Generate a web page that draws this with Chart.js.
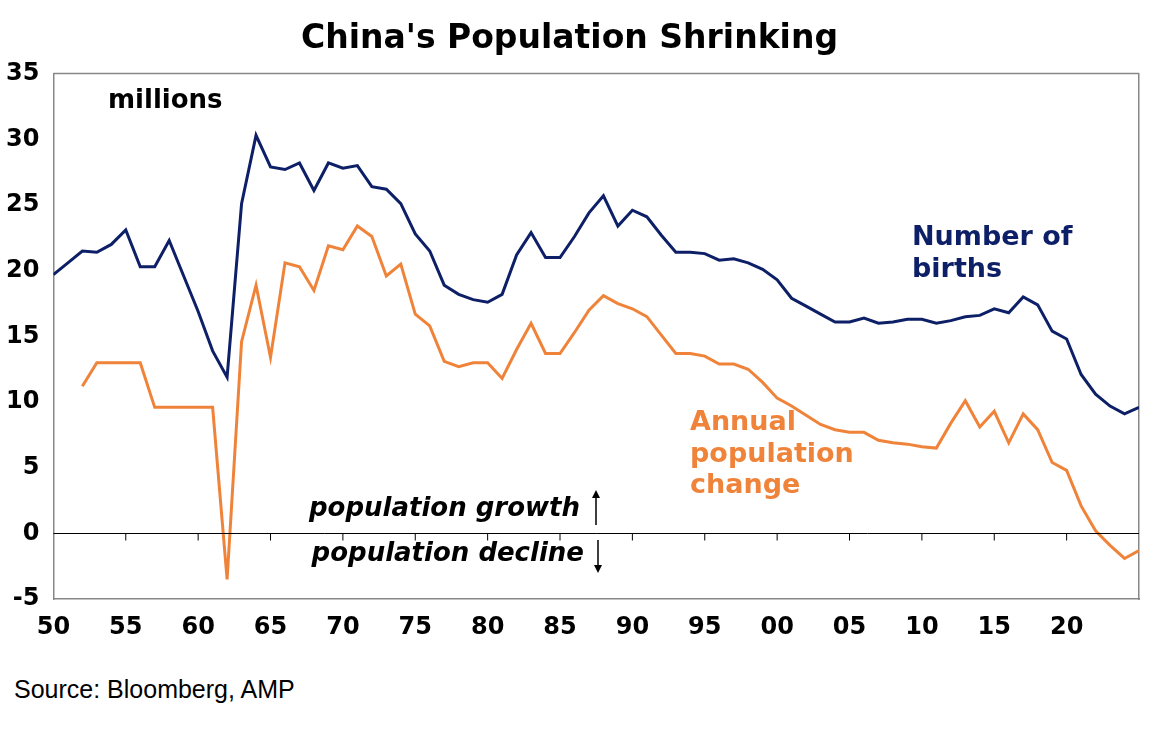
<!DOCTYPE html>
<html>
<head>
<meta charset="utf-8">
<script src="https://cdn.jsdelivr.net/npm/chart.js@4/dist/chart.umd.min.js"></script>
<style>
  body { margin: 0; background: #fff; }
  #wrap { position: relative; width: 1166px; height: 731px; }
  #source { position: absolute; left: 14px; top: 675px; font: 25px "Liberation Sans", Arial, sans-serif; color: #000; }
</style>
</head>
<body>
<div id="wrap">
  <canvas id="chart" width="1166" height="660"></canvas>
  <div id="source">Source: Bloomberg, AMP</div>
</div>
<script>
let years = [];
for (let y = 1950; y <= 2025; y++) years.push(y);

let births = [19.7,20.6,21.5,21.4,22.0,23.1,20.3,20.3,22.3,19.6,
              16.9,13.9,11.9,25.1,30.3,27.9,27.7,28.2,26.1,28.2,
              27.8,28.0,26.4,26.2,25.1,22.8,21.5,18.9,18.2,17.8,
              17.6,18.2,21.2,22.9,21.0,21.0,22.6,24.4,25.7,23.4,
              24.6,24.1,22.7,21.4,21.4,21.3,20.8,20.9,20.6,20.1,
              19.3,17.9,17.3,16.7,16.1,16.1,16.4,16.0,16.1,16.3,
              16.3,16.0,16.2,16.5,16.6,17.1,16.8,18.0,17.4,15.4,
              14.8,12.1,10.6,9.7,9.1,9.6];

let popChange = [null,null,11.2,13.0,13.0,13.0,13.0,9.6,9.6,9.6,
              9.6,9.6,-3.5,14.6,18.9,13.4,20.6,20.3,18.5,21.9,
              21.6,23.4,22.6,19.6,20.5,16.7,15.8,13.1,12.7,13.0,
              13.0,11.8,14.0,16.0,13.7,13.7,15.3,17.0,18.1,17.5,
              17.1,16.5,15.1,13.7,13.7,13.5,12.9,12.9,12.5,11.5,
              10.3,9.7,9.0,8.3,7.9,7.7,7.7,7.1,6.9,6.8,
              6.6,6.5,8.4,10.1,8.1,9.3,6.9,9.1,7.9,5.4,
              4.8,2.1,0.2,-0.9,-1.9,-1.3];

let yTicks = [-5,0,5,10,15,20,25,30,35];
let xTicks = [1950,1955,1960,1965,1970,1975,1980,1985,1990,1995,2000,2005,2010,2015,2020];

const navy = "#0d1f66";
const orange = "#f0833a";
const FONT = "'DejaVu Sans', Verdana, sans-serif";

const annotations = {
  id: "annotations",
  afterDraw(chart) {
    const ctx = chart.ctx;
    const x = chart.scales.x, y = chart.scales.y;
    const y0 = y.getPixelForValue(0);
    ctx.save();
    ctx.strokeStyle = "#000";
    ctx.lineWidth = 1;
    ctx.beginPath();
    ctx.moveTo(x.left, y0); ctx.lineTo(x.right, y0);
    xTicks.forEach(t => {
      if (t === 1950) return;
      const px = x.getPixelForValue(t);
      ctx.moveTo(px, y0); ctx.lineTo(px, y0 + 7);
    });
    ctx.stroke();

    ctx.textBaseline = "middle";
    ctx.font = "bold 26px " + FONT;
    ctx.fillStyle = "#000";
    ctx.fillText("millions", 108, 101);

    ctx.fillStyle = navy;
    ctx.font = "bold 27px " + FONT;
    ctx.fillText("Number of", 912, 238);
    ctx.fillText("births", 912, 270);

    ctx.fillStyle = orange;
    ctx.fillText("Annual", 690, 423);
    ctx.fillText("population", 690, 455);
    ctx.fillText("change", 690, 486);

    ctx.fillStyle = "#000";
    ctx.font = "italic bold 26px " + FONT;
    ctx.textAlign = "right";
    ctx.fillText("population growth", 580, 509);
    ctx.fillText("population decline", 584, 554);

    ctx.lineWidth = 1.5;
    ctx.beginPath();
    ctx.moveTo(596, 525); ctx.lineTo(596, 493);
    ctx.moveTo(598, 540); ctx.lineTo(598, 570);
    ctx.stroke();
    ctx.beginPath();
    ctx.moveTo(596, 490); ctx.lineTo(592, 498); ctx.lineTo(600, 498); ctx.closePath();
    ctx.moveTo(598, 573); ctx.lineTo(594, 565); ctx.lineTo(602, 565); ctx.closePath();
    ctx.fill();
    ctx.restore();
  }
};

new Chart(document.getElementById("chart"), {
  type: "line",
  data: {
    datasets: [{
      label: "Number of births",
      data: years.map((yr, i) => ({x: yr, y: births[i]})),
      borderColor: navy,
      borderWidth: 3,
      pointRadius: 0,
      tension: 0
    }, {
      label: "Annual population change",
      data: years.map((yr, i) => ({x: yr, y: popChange[i]})),
      borderColor: orange,
      borderWidth: 3,
      pointRadius: 0,
      tension: 0
    }]
  },
  options: {
    responsive: false,
    animation: false,
    layout: { padding: { left: 0, right: 27, top: 0, bottom: 4 } },
    plugins: {
      legend: { display: false },
      tooltip: { enabled: false },
      title: {
        display: true,
        text: "China's Population Shrinking",
        color: "#000",
        font: { family: FONT, size: 33, weight: "bold" },
        padding: { top: 20, bottom: 14 }
      }
    },
    scales: {
      x: {
        type: "linear",
        min: 1950,
        max: 2025,
        afterBuildTicks: s => { s.ticks = xTicks.map(v => ({value: v})); },
        ticks: {
          color: "#000",
          font: { family: FONT, size: 24, weight: "bold" },
          padding: 14,
          maxRotation: 0,
          callback: v => String(v % 100).padStart(2, "0")
        },
        grid: { display: false, drawTicks: false },
        border: { color: "#888", width: 1.5 }
      },
      y: {
        min: -5,
        max: 35,
        afterBuildTicks: s => { s.ticks = yTicks.map(v => ({value: v})); },
        ticks: {
          color: "#000",
          font: { family: FONT, size: 24, weight: "bold" },
          padding: 6
        },
        grid: { display: false, drawOnChartArea: false, drawTicks: true, tickLength: 8, color: "#888" },
        border: { color: "#888", width: 1.5 }
      },
      y2: {
        position: "right",
        min: -5, max: 35,
        ticks: { display: false },
        grid: { display: false, drawTicks: false },
        border: { color: "#888", width: 1.5 }
      }
    }
  },
  plugins: [annotations, {
    id: "topBorder",
    afterDraw(chart) {
      const a = chart.chartArea, ctx = chart.ctx;
      ctx.save();
      ctx.strokeStyle = "#888"; ctx.lineWidth = 1.5;
      ctx.beginPath(); ctx.moveTo(a.left, a.top); ctx.lineTo(a.right, a.top); ctx.stroke();
      ctx.restore();
    }
  }]
});
</script>
</body>
</html>
